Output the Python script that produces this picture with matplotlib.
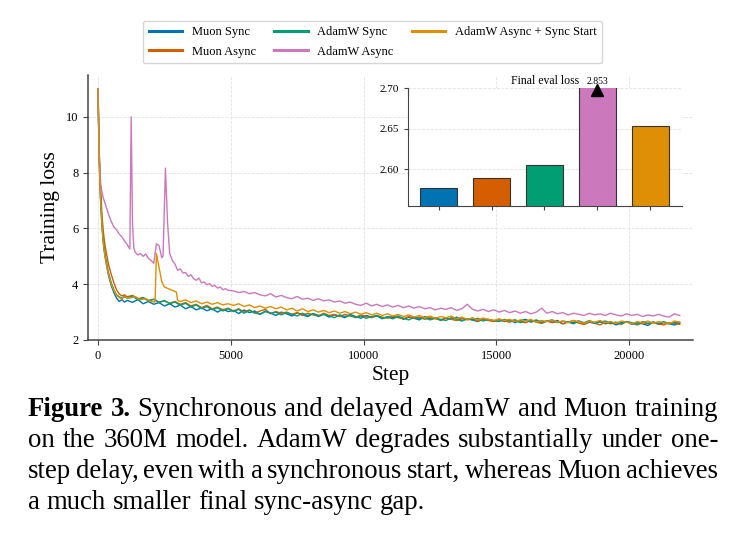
import matplotlib
matplotlib.use("Agg")
import matplotlib.pyplot as plt

plt.rcParams['font.family'] = ['Liberation Serif', 'DejaVu Serif']

labels = ["Muon Sync", "Muon Async", "AdamW Sync", "AdamW Async", "AdamW Async + Sync Start"]
colors = ["#0173B2", "#D55E00", "#029E73", "#CC78BC", "#DE8F05"]

# shared logging grid for the three "well behaved" runs
steps = [0, 50, 100, 150, 200, 250, 300, 400, 500, 600, 700, 800, 900, 1000] + list(range(1100, 22000, 200))

muon_sync = [11.0, 8.4, 7.0, 6.1, 5.5, 5.1, 4.8, 4.3, 3.95, 3.7, 3.5, 3.38, 3.45, 3.36,
             3.42, 3.35, 3.45, 3.30, 3.38, 3.28, 3.34, 3.22, 3.30, 3.18,
             3.25, 3.12, 3.20, 3.08, 3.15, 3.05, 3.12, 3.00, 3.10, 3.02,
             3.06, 2.95, 3.08, 2.98, 3.04, 2.92, 3.02, 2.96, 2.88, 3.00,
             2.94, 2.86, 2.98, 2.90, 2.84, 2.95, 2.88, 2.92, 2.82, 2.90,
             2.86, 2.80, 2.92, 2.84, 2.78, 2.88, 2.82, 2.86, 2.76, 2.84,
             2.80, 2.86, 2.74, 2.82, 2.78, 2.72, 2.84, 2.76, 2.80, 2.70,
             2.78, 2.74, 2.82, 2.70, 2.76, 2.72, 2.66, 2.78, 2.72, 2.68,
             2.74, 2.66, 2.72, 2.62, 2.70, 2.74, 2.64, 2.70, 2.60, 2.68,
             2.64, 2.70, 2.58, 2.66, 2.62, 2.68, 2.56, 2.64, 2.60, 2.66,
             2.58, 2.64, 2.54, 2.62, 2.66, 2.56, 2.62, 2.58, 2.52, 2.64,
             2.56, 2.62, 2.58, 2.54, 2.60]

muon_async = [11.0, 8.7, 7.4, 6.5, 5.9, 5.5, 5.2, 4.7, 4.35, 4.05, 3.8, 3.65, 3.58, 3.62,
              3.55, 3.60, 3.48, 3.52, 3.42, 3.46, 3.36, 3.40, 3.32, 3.38,
              3.28, 3.34, 3.22, 3.28, 3.16, 3.24, 3.12, 3.18, 3.08, 3.14,
              3.04, 3.12, 3.00, 3.08, 2.96, 3.04, 3.10, 2.94, 3.02, 2.96,
              3.00, 2.92, 2.98, 2.88, 2.96, 2.90, 2.86, 2.96, 2.88, 2.92,
              2.84, 2.92, 2.86, 2.82, 2.90, 2.84, 2.80, 2.88, 2.82, 2.78,
              2.86, 2.80, 2.76, 2.84, 2.78, 2.82, 2.74, 2.80, 2.76, 2.72,
              2.80, 2.74, 2.70, 2.78, 2.72, 2.76, 2.68, 2.74, 2.70, 2.66,
              2.72, 2.68, 2.64, 2.72, 2.66, 2.62, 2.70, 2.64, 2.60, 2.68,
              2.62, 2.66, 2.58, 2.64, 2.70, 2.60, 2.56, 2.66, 2.60, 2.54,
              2.64, 2.58, 2.62, 2.56, 2.66, 2.60, 2.54, 2.62, 2.58, 2.64,
              2.58, 2.54, 2.62, 2.60, 2.56]

adamw_sync = [11.0, 8.5, 7.1, 6.2, 5.6, 5.2, 4.9, 4.4, 4.05, 3.8, 3.62, 3.55, 3.50, 3.56,
              3.50, 3.58, 3.44, 3.52, 3.40, 3.46, 3.34, 3.42, 3.30, 3.36,
              3.24, 3.32, 3.18, 3.26, 3.12, 3.20, 3.08, 3.16, 3.04, 3.12,
              3.02, 3.10, 2.96, 3.06, 2.98, 2.92, 3.04, 2.96, 3.00, 2.90,
              2.98, 2.92, 2.86, 2.96, 2.88, 2.94, 2.84, 2.92, 2.86, 2.80,
              2.90, 2.84, 2.88, 2.80, 2.86, 2.78, 2.84, 2.88, 2.78, 2.82,
              2.76, 2.84, 2.78, 2.72, 2.82, 2.76, 2.80, 2.72, 2.78, 2.74,
              2.70, 2.80, 2.74, 2.68, 2.76, 2.72, 2.78, 2.68, 2.74, 2.70,
              2.66, 2.74, 2.68, 2.72, 2.62, 2.70, 2.66, 2.72, 2.64, 2.68,
              2.72, 2.62, 2.68, 2.64, 2.58, 2.68, 2.62, 2.70, 2.60, 2.64,
              2.68, 2.60, 2.64, 2.58, 2.66, 2.62, 2.56, 2.66, 2.60, 2.64,
              2.60, 2.66, 2.58, 2.62, 2.64]

# AdamW async has loss spikes, logged on its own grid
steps_adamw_async = [0, 50, 100, 150, 200, 250, 300, 400, 500, 600, 700, 800, 900, 1000,
                     1100, 1200, 1250, 1300, 1350, 1400, 1500, 1600, 1700, 1800, 1900, 2000,
                     2100, 2200, 2300, 2400, 2450, 2540, 2620, 2700, 2800, 2900, 3000,
                     3100, 3200, 3300, 3400, 3500, 3600, 3700, 3800, 3900, 4000, 4100,
                     4200, 4300, 4400, 4500, 4600, 4700, 4800, 4900] + list(range(5100, 22000, 200))
adamw_async = [11.0, 8.6, 7.6, 7.3, 7.1, 6.95, 6.8, 6.5, 6.25, 6.05, 5.95, 5.8, 5.7, 5.55,
               5.42, 5.26, 10.0, 6.2, 5.3, 5.15, 5.05, 5.1, 5.0, 5.08, 4.92, 4.85,
               4.75, 5.45, 5.38, 4.95, 5.0, 8.16, 6.2, 5.1, 4.85, 4.72, 4.5,
               4.55, 4.4, 4.42, 4.28, 4.34, 4.2, 4.14, 4.22, 4.05, 4.08, 3.98,
               4.02, 3.92, 3.96, 3.86, 3.9, 3.8, 3.84, 3.78,
               3.76, 3.70, 3.74, 3.66, 3.70, 3.62, 3.58, 3.66, 3.54, 3.60,
               3.52, 3.48, 3.56, 3.46, 3.50, 3.42, 3.48, 3.40, 3.44, 3.36,
               3.40, 3.32, 3.36, 3.28, 3.24, 3.32, 3.22, 3.28, 3.20, 3.26,
               3.18, 3.24, 3.16, 3.22, 3.14, 3.20, 3.12, 3.16, 3.08, 3.14,
               3.10, 3.16, 3.06, 3.12, 3.28, 3.10, 3.04, 3.10, 3.02, 3.08,
               3.00, 3.06, 2.98, 3.04, 2.96, 3.02, 2.94, 3.00, 3.14, 2.96,
               3.02, 2.94, 2.98, 2.90, 2.96, 2.92, 2.88, 2.96, 2.90, 2.94,
               2.88, 2.96, 2.90, 2.86, 2.94, 2.88, 2.92, 2.84, 2.90, 2.86,
               2.92, 2.86, 2.82, 2.94, 2.88]

steps_adamw_ss = [0, 50, 100, 150, 200, 250, 300, 400, 500, 600, 700, 800, 900, 1000,
                  1200, 1400, 1600, 1800, 2000, 2150, 2200, 2300, 2400, 2500, 2600,
                  2700, 2800, 2900, 2950, 3000] + list(range(3100, 22000, 200))
adamw_ss = [11.0, 8.3, 7.0, 6.1, 5.5, 5.1, 4.8, 4.35, 4.0, 3.78, 3.6, 3.52, 3.48, 3.54,
            3.50, 3.56, 3.44, 3.48, 3.38, 3.36, 5.1, 4.6, 4.1, 3.9, 3.86,
            3.82, 3.78, 3.74, 3.72, 3.42,
            3.38, 3.44, 3.34, 3.40, 3.30, 3.36, 3.28, 3.34, 3.26, 3.30,
            3.24, 3.30, 3.20, 3.26, 3.16, 3.22, 3.14, 3.20, 3.12, 3.18,
            3.08, 3.14, 3.04, 3.12, 3.02, 3.08, 3.00, 3.06, 2.98, 3.04,
            2.96, 3.02, 2.94, 3.00, 2.92, 2.98, 2.90, 2.96, 2.88, 2.94,
            2.86, 2.92, 2.84, 2.90, 2.82, 2.88, 2.80, 2.86, 2.78, 2.84,
            2.80, 2.86, 2.76, 2.82, 2.74, 2.80, 2.72, 2.78, 2.74, 2.70,
            2.76, 2.70, 2.74, 2.66, 2.72, 2.68, 2.74, 2.64, 2.70, 2.66,
            2.72, 2.64, 2.68, 2.62, 2.70, 2.66, 2.60, 2.68, 2.64, 2.70,
            2.62, 2.66, 2.60, 2.68, 2.64, 2.58, 2.66, 2.62, 2.68, 2.60,
            2.66, 2.62, 2.58, 2.68, 2.64]

final_eval = [2.5775, 2.5898, 2.605, 2.853, 2.653]

caption = [
    [("Figure", "bold"), ("3.", "bold"), ("Synchronous", "normal"), ("and", "normal"), ("delayed", "normal"),
     ("AdamW", "normal"), ("and", "normal"), ("Muon", "normal"), ("training", "normal")],
    [(w, "normal") for w in "on the 360M model.  AdamW degrades substantially under one-".split()],
    [(w, "normal") for w in "step delay, even with a synchronous start, whereas Muon achieves".split()],
    [(w, "normal") for w in "a much smaller final sync-async gap.".split()],
]

W, H = 737, 533
fig = plt.figure(figsize=(W / 100, H / 100), dpi=100)

ax = fig.add_axes([88 / W, 1 - 340 / H, 605 / W, 265 / H])
series = [(steps, muon_sync), (steps, muon_async), (steps, adamw_sync),
          (steps_adamw_async, adamw_async), (steps_adamw_ss, adamw_ss)]
for (x, y), lab, c in zip(series, labels, colors):
    ax.plot(x, y, color=c, lw=1.0, label=lab)
ax.set_xlim(-375, 22400)
ax.set_ylim(2, 11.5)
ax.set_xticks([0, 5000, 10000, 15000, 20000])
ax.set_yticks([2, 4, 6, 8, 10])
ax.grid(True, ls='--', lw=0.6, color='#e2e2e2')
ax.set_axisbelow(True)
for s in ['top', 'right']:
    ax.spines[s].set_visible(False)
for s in ['left', 'bottom']:
    ax.spines[s].set_color('#444444')
    ax.spines[s].set_linewidth(1.1)
ax.tick_params(labelsize=9, color='#444444', length=3.5)
ax.set_xlabel("Step", fontsize=15.5, labelpad=3)
ax.set_ylabel("Training loss", fontsize=15.5, labelpad=4)

leg = fig.legend(loc='center', bbox_to_anchor=(372.5 / W, 1 - 42 / H), ncol=3, fontsize=9,
                 frameon=True, edgecolor='#cccccc', handlelength=2.7, columnspacing=1.45,
                 handletextpad=0.75, borderpad=0.45, labelspacing=0.6)
for h in leg.get_lines():
    h.set_linewidth(2.2)

# inset with final eval loss
ax_in = fig.add_axes([408 / W, 1 - 206 / H, 274 / W, 118 / H])
ax_in.bar(range(len(final_eval)), final_eval, width=0.7, color=colors,
          edgecolor='#333333', linewidth=0.8)
ax_in.set_ylim(2.555, 2.70)
ax_in.set_xlim(-0.58, 4.6)
ax_in.set_yticks([2.60, 2.65, 2.70])
ax_in.set_yticklabels(["%.2f" % v for v in [2.60, 2.65, 2.70]])
ax_in.set_xticks(range(len(final_eval)))
ax_in.set_xticklabels([])
ax_in.tick_params(labelsize=8, color='#444444', length=3)
ax_in.grid(True, axis='y', ls='--', lw=0.6, color='#e2e2e2')
ax_in.set_axisbelow(True)
for s in ['top', 'right']:
    ax_in.spines[s].set_visible(False)
for s in ['left', 'bottom']:
    ax_in.spines[s].set_color('#444444')
ax_in.set_title("Final eval loss", fontsize=8.5, pad=3)
top = ax_in.get_ylim()[1]
for i, v in enumerate(final_eval):
    if v > top:
        ax_in.plot(i, top - 0.003, marker='^', color='black', markersize=8, clip_on=False)
        ax_in.text(i, top + 0.003, "%.3f" % v, ha='center', va='bottom', fontsize=7)

# justified caption
fig.canvas.draw()
r = fig.canvas.get_renderer()
fs = 19.3
x0, x1 = 28, 718
baselines = [416, 447, 478, 509]
for li, (line, yb) in enumerate(zip(caption, baselines)):
    widths = []
    for w, wt in line:
        t = fig.text(0, 0, w, fontsize=fs, fontweight=wt)
        widths.append(t.get_window_extent(r).width)
        t.remove()
    if li < len(caption) - 1:
        gap = (x1 - x0 - sum(widths)) / (len(line) - 1)
    else:
        gap = fs * 0.25 * 100 / 72
    x = x0
    for (w, wt), wd in zip(line, widths):
        fig.text(x / W, 1 - yb / H, w, fontsize=fs, fontweight=wt, va='baseline', ha='left')
        x += wd + gap

fig.savefig("out.png", dpi=100)
